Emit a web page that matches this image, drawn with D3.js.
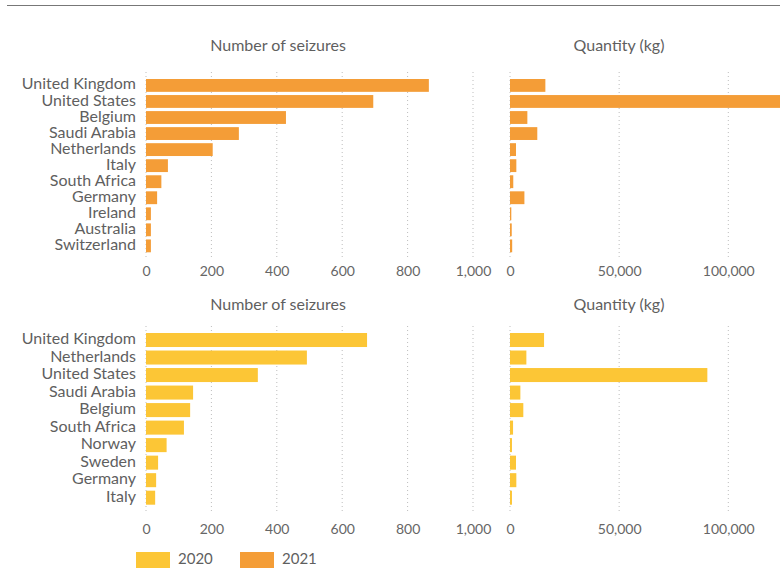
<!DOCTYPE html>
<html>
<head>
<meta charset="utf-8">
<script src="https://cdn.jsdelivr.net/npm/d3@7"></script>
<style>
  html, body { margin: 0; padding: 0; background: #fff; }
  svg { display: block; font-family: Lato, "Open Sans", sans-serif; }
</style>
</head>
<body>
<svg id="chart" width="780" height="587"></svg>
<script>
// ---- data ----
const countries2021 = ["United Kingdom", "United States", "Belgium", "Saudi Arabia", "Netherlands", "Italy", "South Africa", "Germany", "Ireland", "Australia", "Switzerland"];
const seizures2021 = [865, 695, 428, 284, 204, 67, 47, 34, 15, 15, 15];
const quantity2021 = [16200, 135000, 7950, 12500, 2750, 2900, 1500, 6600, 600, 800, 1000];

const countries2020 = ["United Kingdom", "Netherlands", "United States", "Saudi Arabia", "Belgium", "South Africa", "Norway", "Sweden", "Germany", "Italy"];
const seizures2020 = [676, 492, 342, 144, 135, 116, 63, 37, 31, 28];
const quantity2020 = [15600, 7500, 90400, 4750, 6100, 1400, 900, 2750, 2900, 900];

const seizureTicks = [0, 200, 400, 600, 800, 1000];
const quantityTicks = [0, 50000, 100000];
const titles = ["Number of seizures", "Quantity (kg)"];
const legendYears = ["2020", "2021"];

// ---- styles ----
const colors = { "2020": "#FCC636", "2021": "#F49D37" };
const textColor = "#5f5f5f";

const svg = d3.select("#chart");

// top rule
svg.append("line")
  .attr("x1", 7).attr("x2", 780).attr("y1", 5.5).attr("y2", 5.5)
  .attr("stroke", "#777").attr("stroke-width", 1);

const xSeiz = d3.scaleLinear().domain([0, 1000]).range([146, 473]);
const xQty = d3.scaleLinear().domain([0, 100000]).range([510, 728.3]);

function drawPanel(cfg) {
  const y = d3.scaleBand().domain(cfg.countries)
    .range(cfg.band).paddingInner(0.2).paddingOuter(0.1);
  const g = svg.append("g");

  // titles
  g.append("text").attr("x", 278).attr("y", cfg.titleY)
    .attr("text-anchor", "middle").attr("dominant-baseline", "middle")
    .attr("font-size", 16).attr("fill", textColor).text(titles[0]);
  g.append("text").attr("x", 619).attr("y", cfg.titleY)
    .attr("text-anchor", "middle").attr("dominant-baseline", "middle")
    .attr("font-size", 16).attr("fill", textColor).text(titles[1]);

  // gridlines
  [[xSeiz, seizureTicks], [xQty, quantityTicks]].forEach(([x, ticks]) => {
    g.selectAll(null).data(ticks).enter().append("line")
      .attr("x1", d => x(d)).attr("x2", d => x(d))
      .attr("y1", cfg.grid[0]).attr("y2", cfg.grid[1])
      .attr("stroke", "#bdbdbd").attr("stroke-width", 1)
      .attr("stroke-dasharray", "1 3");
  });

  // axes (tick labels)
  const axS = g.append("g").attr("transform", `translate(0,${cfg.tickY})`)
    .call(d3.axisBottom(xSeiz).tickValues(seizureTicks).tickSize(0).tickPadding(0).tickFormat(d3.format(",")));
  const axQ = g.append("g").attr("transform", `translate(0,${cfg.tickY})`)
    .call(d3.axisBottom(xQty).tickValues(quantityTicks).tickSize(0).tickPadding(0).tickFormat(d3.format(",")));
  [axS, axQ].forEach(a => {
    a.select(".domain").remove();
    a.selectAll("text").attr("font-family", "Lato, sans-serif").attr("font-size", 14)
      .attr("fill", "#666").attr("dy", null).attr("dominant-baseline", "middle");
  });

  // country labels
  g.selectAll(null).data(cfg.countries).enter().append("text")
    .attr("x", 136).attr("y", d => y(d) + y.bandwidth() / 2)
    .attr("text-anchor", "end").attr("dominant-baseline", "middle")
    .attr("font-size", 16).attr("fill", textColor).text(d => d);

  const color = colors[cfg.year];
  // seizure bars
  g.selectAll(null).data(cfg.countries).enter().append("rect")
    .attr("x", xSeiz(0)).attr("y", d => y(d))
    .attr("width", (d, i) => xSeiz(cfg.seizures[i]) - xSeiz(0))
    .attr("height", y.bandwidth()).attr("fill", color);
  // quantity bars
  g.selectAll(null).data(cfg.countries).enter().append("rect")
    .attr("x", xQty(0)).attr("y", d => y(d))
    .attr("width", (d, i) => xQty(cfg.quantity[i]) - xQty(0))
    .attr("height", y.bandwidth()).attr("fill", color);
}

drawPanel({ year: "2021", countries: countries2021, seizures: seizures2021, quantity: quantity2021,
  band: [77.4, 253.9], grid: [72, 258], tickY: 272, titleY: 47 });
drawPanel({ year: "2020", countries: countries2020, seizures: seizures2020, quantity: quantity2020,
  band: [331.25, 506.45], grid: [326, 512], tickY: 530, titleY: 306 });

// legend
const leg = svg.append("g");
legendYears.forEach((yr, i) => {
  const x0 = 136 + i * 104;
  leg.append("rect").attr("x", x0).attr("y", 552).attr("width", 34).attr("height", 16)
    .attr("fill", colors[yr]);
  leg.append("text").attr("x", x0 + 42).attr("y", 560.5)
    .attr("dominant-baseline", "middle").attr("font-size", 15).attr("fill", textColor).text(yr);
});
</script>
</body>
</html>
